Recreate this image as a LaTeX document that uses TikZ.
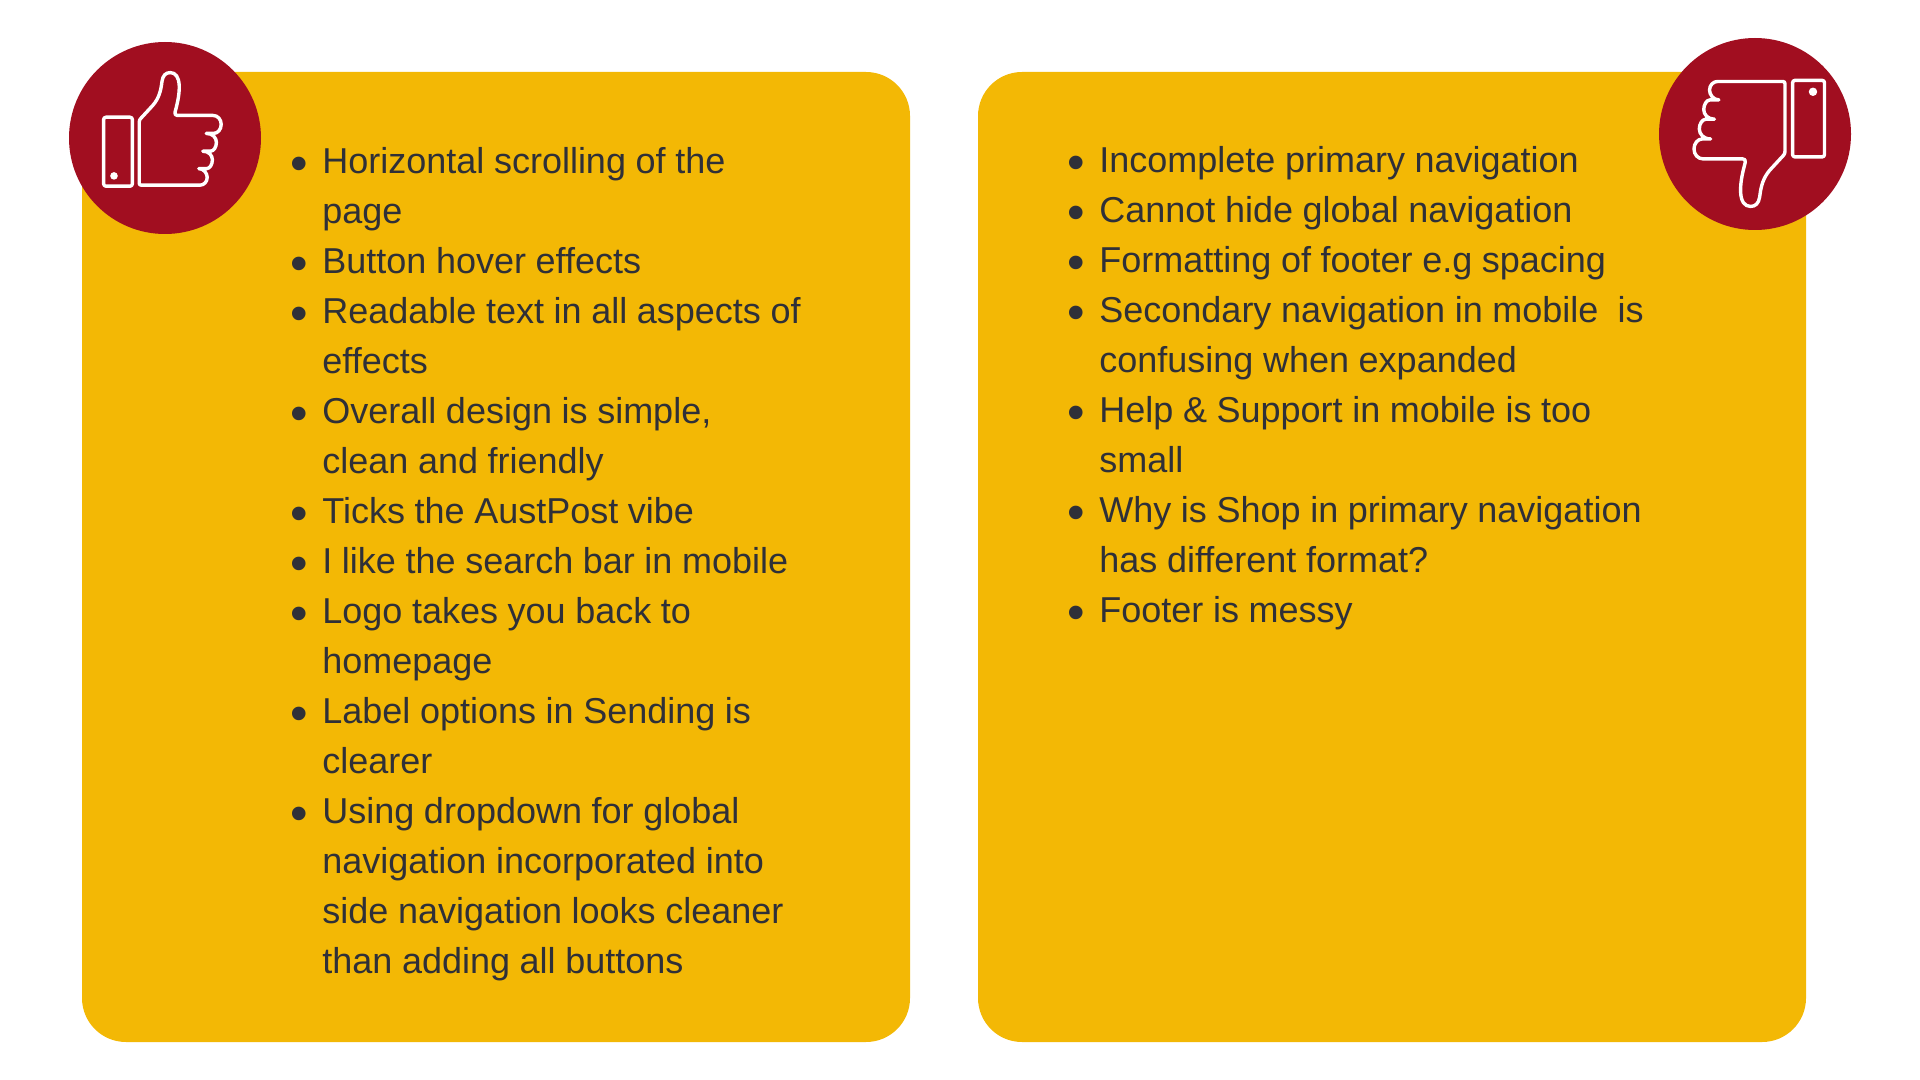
\documentclass[tikz,border=0pt]{standalone}
\usepackage{fontspec}
\setmainfont{Liberation Sans}
\usepackage{tikz}
\usetikzlibrary{positioning}
\definecolor{cardyellow}{HTML}{F3B805}
\definecolor{badgered}{HTML}{A10E20}
\definecolor{listgrey}{HTML}{2F3038}
\tikzset{
    card/.style={rectangle, fill=cardyellow, rounded corners=22pt, minimum width=414pt, minimum height=485pt, inner sep=0pt},
    badge/.style={circle, fill=badgered, minimum size=96pt, inner sep=0pt},
    icon_line/.style={draw=white, line width=1.7pt, line join=round, line cap=round, rounded corners=1.2pt},
    list_text/.style={text=listgrey, text width=340pt, inner sep=0pt, anchor=north west, font=\fontsize{18pt}{25pt}\selectfont},
    thumbicon/.pic={
        \draw [icon_line] (-29.6,-28.4) rectangle (-15.2,6.1);
        \fill [white] (-24.4,-23.25) circle (1.9pt);
        \draw [icon_line, rounded corners=0pt] (-11.8,-26.8) -- (-11.8,3.5) .. controls (-11.8,4.5) and (-11.5,5) .. (-11,5.5)
            -- (-5,12) .. controls (-2,15.5) and (-1,19) .. (-0.4,24) .. controls (0,27) and (1.5,28.4) .. (3.75,28.4)
            .. controls (6.5,28.4) and (8,26) .. (8.2,22) .. controls (8.4,17) and (7,12) .. (6.1,8.5)
            .. controls (6,7.5) and (6.3,7) .. (7.2,7) -- (25,7)
            .. controls (27.5,7) and (29.2,5) .. (29.2,2.5) .. controls (29.2,0) and (27.5,-2) .. (25.4,-2) -- (21.7,-2)
            .. controls (25,-2) and (26.8,-4.2) .. (26.8,-6.5) .. controls (26.8,-8.8) and (25.5,-10.9) .. (23.8,-10.9) -- (20,-10.9)
            .. controls (23,-10.9) and (24.8,-13) .. (24.8,-15.2) .. controls (24.8,-17.5) and (23.5,-19.6) .. (22,-19.6) -- (18,-19.6)
            .. controls (20.5,-19.6) and (22.2,-22) .. (22.2,-24) .. controls (22.2,-26.3) and (20.5,-27.9) .. (18.5,-27.9)
            -- (-10.8,-27.9) .. controls (-11.5,-27.9) and (-11.8,-27.5) .. (-11.8,-26.8) -- cycle;
    }
}
% bigger bullet than the font gives
\newcommand{\listdot}{\raisebox{-3.7pt}{\fontsize{25pt}{25pt}\selectfont\textbullet}}
\newenvironment{dotlist}{\begin{list}{\listdot}{\setlength{\leftmargin}{23pt}\setlength{\labelsep}{7.2pt}\setlength{\labelwidth}{17pt}\setlength{\itemsep}{0pt}\setlength{\parsep}{0pt}\setlength{\topsep}{0pt}\setlength{\partopsep}{0pt}}\raggedright\spaceskip=4.8pt\relax}{\end{list}}
\begin{document}
\begin{tikzpicture}[x=0.5pt, y=-0.5pt]
    \useasboundingbox (0,0) rectangle (1920,1080);

    \node (goodcard) [card] at (496,557) {};
    \node (badcard) [card] at (1392,557) {};
    \node (goodbadge) [badge] at (165,138) {};
    \node (badbadge) [badge] at (1755,134) {};

    % thumbs
    \pic at (goodbadge.center) [xshift=-1.1pt, yshift=4.3pt, y=1pt, x=1pt] {thumbicon};
    \pic at (badbadge.center) [xshift=1.9pt, yshift=-4.7pt, y=1pt, x=1pt, rotate=180, scale=1.11] {thumbicon};

    \node (goodlist) [list_text] at (276,123) {\begin{dotlist}
        \item Horizontal scrolling of the\\page
        \item Button hover effects
        \item Readable text in all aspects of\\effects
        \item Overall design is simple,\\clean and friendly
        \item Ticks the AustPost vibe
        \item I like the search bar in mobile
        \item Logo takes you back to\\homepage
        \item Label options in Sending is\\clearer
        \item Using dropdown for global\\navigation incorporated into\\side navigation looks cleaner\\than adding all buttons
    \end{dotlist}};
    \node (badlist) [list_text] at (1053,122) {\begin{dotlist}
        \item Incomplete primary navigation
        \item Cannot hide global navigation
        \item Formatting of footer e.g spacing
        \item Secondary navigation in mobile~ is\\confusing when expanded
        \item Help \& Support in mobile is too\\small
        \item Why is Shop in primary navigation\\has different format?
        \item Footer is messy
    \end{dotlist}};
\end{tikzpicture}
\end{document}
